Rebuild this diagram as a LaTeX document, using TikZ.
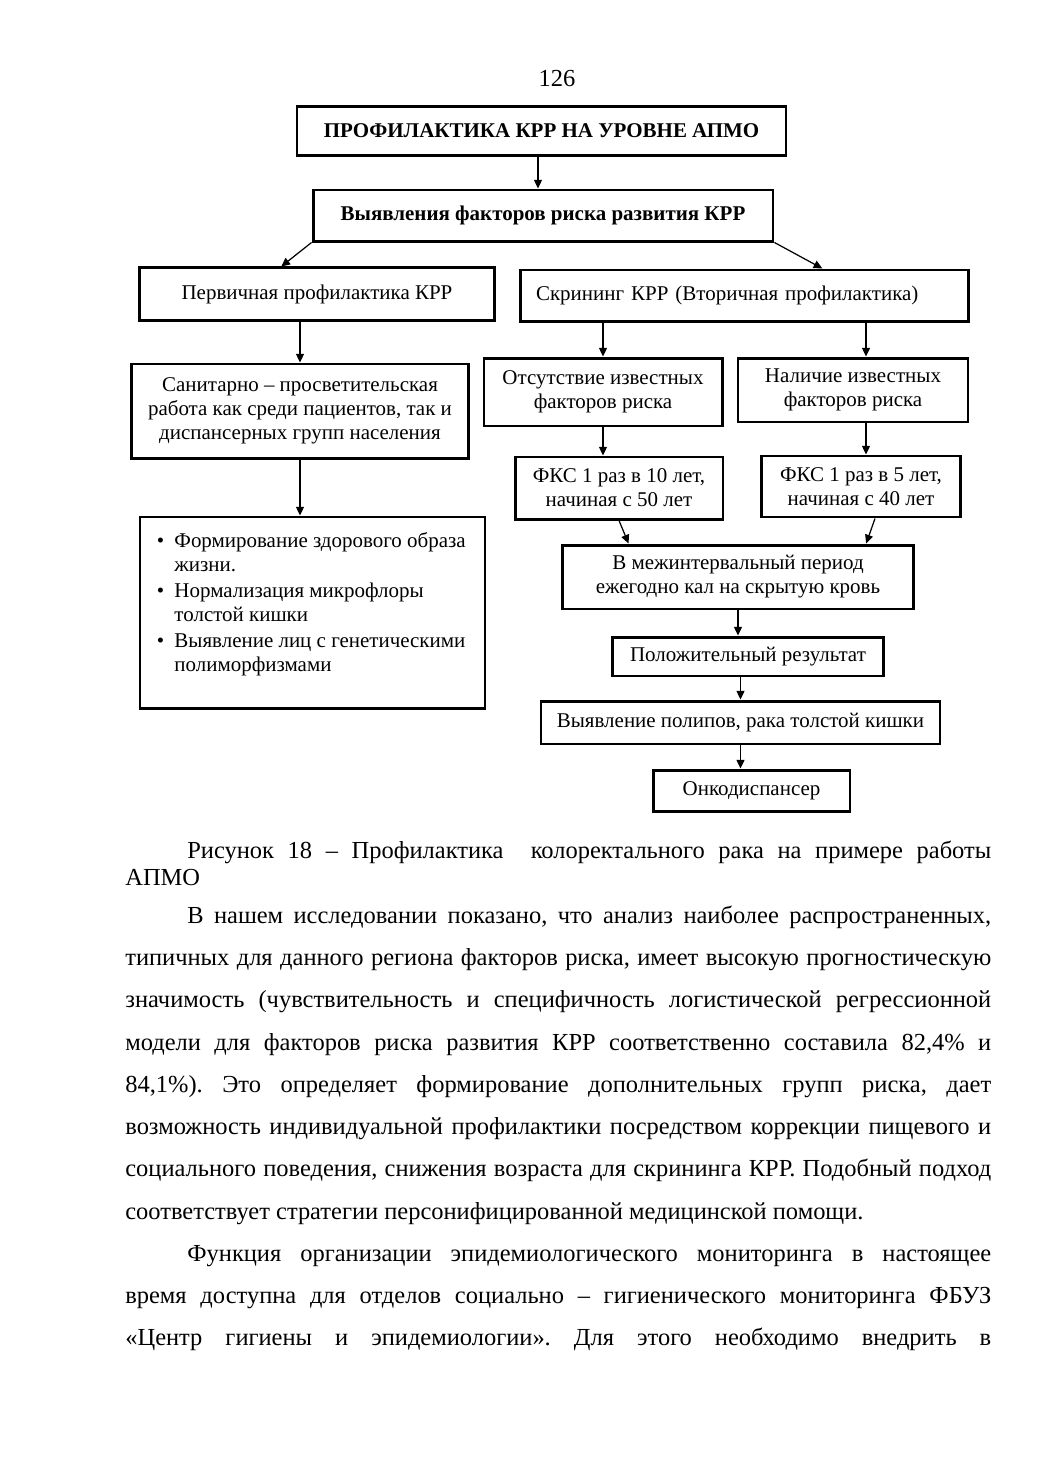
\documentclass[tikz,border=0pt]{standalone}
\usepackage{fontspec}
\setmainfont{Liberation Serif}
\usetikzlibrary{positioning}
\usetikzlibrary{calc}
\usetikzlibrary{arrows.meta}
\frenchspacing
\newcommand{\boxfont}{\fontsize{12}{13.8}\selectfont}
\newcommand{\pagefont}{\fontsize{14}{24}\selectfont}
\tikzstyle{block}=[draw, line width=1.7pt, inner sep=3pt, align=center, font=\boxfont]
\tikzstyle{edge}=[draw, line width=0.7pt, -{Triangle[length=5pt,width=4.6pt]}]
\tikzstyle{txtline}=[anchor=base west, inner sep=0pt, font=\pagefont]

\begin{document}
\begin{tikzpicture}[x=0.5722pt, y=-0.5722pt]

    \useasboundingbox (0,0) rectangle (1040,1471);
    \def\fullw{495.5pt};
    \def\indw{460pt};

% page number
    \node[anchor=base, inner sep=0pt, font=\pagefont] (pagenum) at (557,86) {126};

% top levels
    \node[block, font=\boxfont\bfseries, minimum width=279.8pt, minimum height=27.5pt] (apmo) at (541.5,131) {ПРОФИЛАКТИКА КРР НА УРОВНЕ АПМО};
    \node[block, font=\boxfont\bfseries, minimum width=263.2pt, minimum height=29.2pt] (risk) at (543,215.5) {Выявления факторов риска развития КРР};
    \node[block, minimum width=202.6pt, minimum height=29.8pt] (prim) at (317,294) {Первичная профилактика КРР};
    \node[block, inner xsep=8.6pt, text width=238.6pt, align=left, minimum height=29.2pt] (scr) at (744.5,295.5) {Скрининг КРР (Вторичная профилактика)};

% left branch
    \node[block, minimum width=192.3pt, minimum height=53.8pt] (san) at (300,411) {Санитарно – просветительская\\работа как среди пациентов, так и\\диспансерных групп населения};
    \node[block, inner sep=0pt, minimum width=197.4pt, minimum height=109.3pt] (bul) at (312.5,612.5)
        {\parbox[c][96pt][t]{178pt}{\raggedright\vspace*{2.2pt}
        \makebox[10pt][l]{\textbullet}Формирование здорового образа\\
        \hspace*{10pt}жизни.\\[1pt]
        \makebox[10pt][l]{\textbullet}Нормализация микрофлоры\\
        \hspace*{10pt}толстой кишки\\[1pt]
        \makebox[10pt][l]{\textbullet}Выявление лиц с генетическими\\
        \hspace*{10pt}полиморфизмами}};

% right branch
    \node[block, minimum width=136.2pt, minimum height=38.9pt] (abs) at (603,392) {Отсутствие известных\\факторов риска};
    \node[block, minimum width=131.6pt, minimum height=36.6pt] (pres) at (853,390) {Наличие известных\\факторов риска};
    \node[block, minimum width=119pt, minimum height=35.5pt] (fks10) at (619,488) {ФКС 1 раз в 10 лет,\\начиная с 50 лет};
    \node[block, minimum width=114.4pt, minimum height=34.9pt] (fks5) at (861,486.5) {ФКС 1 раз в 5 лет,\\начиная с 40 лет};
    \node[block, minimum width=200.3pt, minimum height=36.6pt] (mez) at (738,577) {В межинтервальный период\\ежегодно кал на скрытую кровь};
    \node[block, minimum width=155.6pt, minimum height=22.3pt] (pos) at (748,656.5) {Положительный результат};
    \node[block, minimum width=228.3pt, minimum height=24.6pt] (vyav) at (740.5,722.5) {Выявление полипов, рака толстой кишки};
    \node[block, minimum width=112.7pt, minimum height=24pt] (onko) at (751.5,791) {Онкодиспансер};

% Edges
    \coordinate (prx) at ($(pres.north)+(13,0)$);
    \path[edge] (apmo.south -| 538,0) -- (risk.north -| 538,0);
    \path[edge] (risk.south west) -- ($(prim.north west)!0.40!(prim.north east)$);
    \path[edge] (risk.south east) -- ($(scr.north west)!0.673!(scr.north east)$);
    \path[edge] (san.north |- prim.south) -- (san.north);
    \path[edge] (san.south) -- (san.south |- bul.north);
    \path[edge] (abs.north |- scr.south) -- (abs.north);
    \path[edge] (prx |- scr.south) -- (prx);
    \path[edge] (abs.south) -- (abs.south |- fks10.north);
    \path[edge] (prx |- pres.south) -- (prx |- fks5.north);
    \path[edge] (fks10.south) -- ($(mez.north west)!0.19!(mez.north east)$);
    \path[edge] ($(fks5.south)+(14,0)$) -- ($(mez.north west)!0.863!(mez.north east)$);
    \path[edge] (mez.south) -- (mez.south |- pos.north);
    \path[edge] (vyav.north |- pos.south) -- (vyav.north);
    \path[edge] (vyav.south) -- (vyav.south |- onko.north);

% Caption
    \node[txtline] (cap1) at (187,858) {\makebox[\indw][s]{Рисунок 18 – Профилактика \ колоректального рака на примере работы}};
    \node[txtline] (cap2) at (125,885) {АПМО};

% Text
    \node[txtline] (line923) at (187,923) {\makebox[\indw][s]{В нашем исследовании показано, что анализ наиболее распространенных,}};
    \foreach \y/\txt in {965/{типичных для данного региона факторов риска, имеет высокую прогностическую},
                         1007/{значимость (чувствительность и специфичность логистической регрессионной},
                         1050/{модели для факторов риска развития КРР соответственно составила 82,4\% и},
                         1092/{84,1\%). Это определяет формирование дополнительных групп риска, дает},
                         1134/{возможность индивидуальной профилактики посредством коррекции пищевого и},
                         1176/{социального поведения, снижения возраста для скрининга КРР. Подобный подход},
                         1303/{время доступна для отделов социально – гигиенического мониторинга ФБУЗ},
                         1345/{«Центр гигиены и эпидемиологии». Для этого необходимо внедрить в}}
        \node[txtline] (line\y) at (125,\y) {\makebox[\fullw][s]{\txt}};
    \node[txtline] (line1219) at (125,1219) {соответствует стратегии персонифицированной медицинской помощи.};
    \node[txtline] (line1261) at (187,1261) {\makebox[\indw][s]{Функция организации эпидемиологического мониторинга в настоящее}};

\end{tikzpicture}
\end{document}
